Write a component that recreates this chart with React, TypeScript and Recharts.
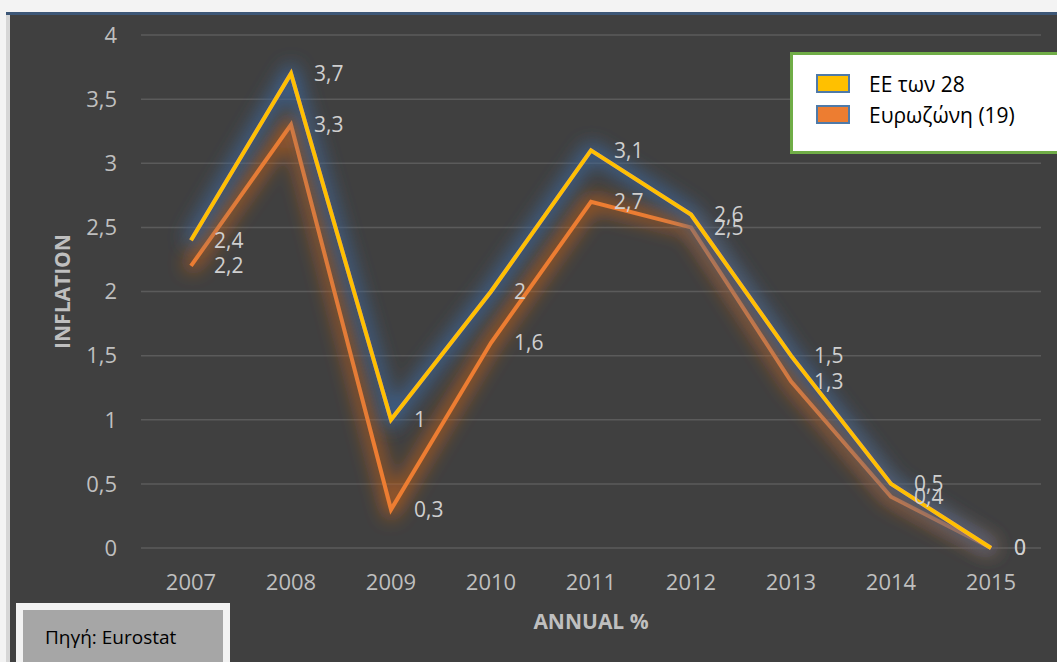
import React from 'react';
import { LineChart, Line, XAxis, YAxis, CartesianGrid, LabelList, Legend, Label } from 'recharts';

const years = ['2007', '2008', '2009', '2010', '2011', '2012', '2013', '2014', '2015'];
const eu28 = [2.4, 3.7, 1, 2, 3.1, 2.6, 1.5, 0.5, 0];
const eurozone = [2.2, 3.3, 0.3, 1.6, 2.7, 2.5, 1.3, 0.4, 0];
const yTicks = [0, 0.5, 1, 1.5, 2, 2.5, 3, 3.5, 4];
const seriesNames = { eu28: 'ΕΕ των 28', eurozone: 'Ευρωζώνη (19)' };
const seriesColors = { eu28: '#ffc000', eurozone: '#ed7d31' };
const yAxisTitle = 'INFLATION';
const xAxisTitle = 'ANNUAL %';
const sourceText = 'Πηγή: Eurostat';

const data = years.map((y, i) => ({ year: y, eu28: eu28[i], eurozone: eurozone[i] }));

const FONT = '"Open Sans", "Noto Sans", sans-serif';
const fmt = (v: number) => String(v).replace('.', ',');

const LegendBox = () => (
  <div
    style={{
      boxSizing: 'border-box',
      width: 270,
      height: 102,
      background: '#ffffff',
      border: '3px solid #70ad47',
      padding: '13px 0 0 23px',
      fontFamily: FONT,
      fontSize: 21,
      color: '#000',
      whiteSpace: 'nowrap',
    }}
  >
    {(['eu28', 'eurozone'] as const).map((k) => (
      <div key={k} style={{ display: 'flex', alignItems: 'center', height: 31 }}>
        <span
          style={{
            display: 'inline-block',
            boxSizing: 'border-box',
            width: 34,
            height: 19,
            background: seriesColors[k],
            border: '2px solid #4f7aa8',
            marginRight: 19,
          }}
        />
        <span>{seriesNames[k]}</span>
      </div>
    ))}
  </div>
);

const glow = (id: string, color: string, opacity: number) => (
  <filter id={id} filterUnits="userSpaceOnUse" x="0" y="0" width="1047" height="647">
    <feMorphology in="SourceAlpha" operator="dilate" radius="4" result="d" />
    <feGaussianBlur in="d" stdDeviation="9" result="b" />
    <feFlood floodColor={color} floodOpacity={opacity} />
    <feComposite in2="b" operator="in" result="g" />
    <feMerge>
      <feMergeNode in="g" />
      <feMergeNode in="SourceGraphic" />
    </feMerge>
  </filter>
);

export default function App() {
  return (
    <div style={{ position: 'absolute', left: 0, top: 0, width: 1057, height: 662, background: '#f3f3f3', overflow: 'hidden' }}>
      <div style={{ position: 'absolute', left: 6, top: 12, width: 1051, height: 3, background: '#3d5777' }} />
      <div style={{ position: 'absolute', left: 6, top: 15, width: 4, height: 647, background: '#d6d6d6' }} />
      <div style={{ position: 'absolute', left: 10, top: 15, width: 1047, height: 647, background: '#404040' }}>
        <LineChart width={1047} height={647} data={data} margin={{ top: 20, right: 16, left: 0, bottom: 0 }}>
          <defs>
            {glow('glowBlue', '#3d6494', 0.9)}
            {glow('glowOrange', '#c0601c', 0.75)}
          </defs>
          <CartesianGrid vertical={false} stroke="#5b5b5b" strokeWidth={1.5} />
          <XAxis
            dataKey="year"
            height={114}
            axisLine={false}
            tickLine={false}
            tickMargin={20}
            padding={{ left: 50, right: 50 }}
            tick={{ fill: '#bfbfbf', fontSize: 22, fontFamily: FONT }}
            interval={0}
          >
            <Label
              value={xAxisTitle}
              position="center"
              dy={17}
              style={{ fill: '#bfbfbf', fontSize: 21, fontWeight: 700, fontFamily: FONT }}
            />
          </XAxis>
          <YAxis
            width={131}
            domain={[0, 4]}
            ticks={yTicks}
            axisLine={false}
            tickLine={false}
            tickMargin={18}
            tickFormatter={fmt}
            tick={{ fill: '#bfbfbf', fontSize: 22, fontFamily: FONT }}
          >
            <Label
              value={yAxisTitle}
              position="center"
              angle={-90}
              dx={-13}
              style={{ fill: '#bfbfbf', fontSize: 21, fontWeight: 700, fontFamily: FONT, textAnchor: 'middle' }}
            />
          </YAxis>
          <Legend
            layout="horizontal"
            verticalAlign="middle"
            align="center"
            wrapperStyle={{ left: 780, top: 37, width: 270, height: 102 }}
            content={() => <LegendBox />}
          />
          <Line
            type="linear"
            dataKey="eurozone"
            name={seriesNames.eurozone}
            stroke={seriesColors.eurozone}
            strokeWidth={4}
            dot={false}
            filter="url(#glowOrange)"
            isAnimationActive={false}
          >
            <LabelList dataKey="eurozone" position="right" offset={23} formatter={fmt} style={{ fill: '#cfcfcf', fontSize: 21, fontFamily: FONT }} />
          </Line>
          <Line
            type="linear"
            dataKey="eu28"
            name={seriesNames.eu28}
            stroke={seriesColors.eu28}
            strokeWidth={4}
            dot={false}
            filter="url(#glowBlue)"
            isAnimationActive={false}
          >
            <LabelList dataKey="eu28" position="right" offset={23} formatter={fmt} style={{ fill: '#cfcfcf', fontSize: 21, fontFamily: FONT }} />
          </Line>
        </LineChart>
      </div>
      <div
        style={{
          position: 'absolute',
          left: 16,
          top: 603,
          width: 214,
          height: 70,
          boxSizing: 'border-box',
          border: '7px solid #f2f2f2',
          background: '#a6a6a6',
          fontFamily: FONT,
          fontSize: 19,
          color: '#000',
          padding: '14px 0 0 22px',
          whiteSpace: 'nowrap',
        }}
      >
        {sourceText}
      </div>
    </div>
  );
}
